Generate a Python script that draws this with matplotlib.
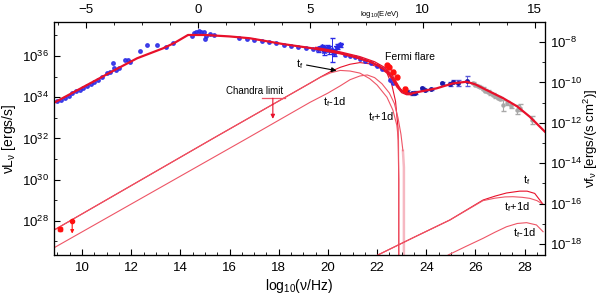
import numpy as np
import matplotlib.pyplot as plt
from matplotlib.ticker import MultipleLocator, FuncFormatter

plt.rcParams['font.family'] = ['Liberation Sans', 'DejaVu Sans']
plt.rcParams['mathtext.default'] = 'regular'

# ---- model curves, (log10 nu, log10 nuL_nu)
model_nu = [8.86, 10.45, 11.3, 12.24, 13.29, 13.78, 14.31, 15.0, 16.0, 16.83, 18.17, 19.5, 20.49,
            21.1, 21.71, 22.1, 22.4, 22.55, 22.7, 22.85, 23.0, 23.15, 23.33, 23.74, 24.42, 25.08,
            25.64, 26.0, 26.45, 27.13, 27.7, 28.21, 28.82]
model_L = [33.73, 34.75, 35.3, 35.89, 36.37, 36.65, 37.02, 37.02, 36.95, 36.86, 36.58, 36.35, 36.13,
           35.95, 35.72, 35.5, 35.25, 35.05, 34.8, 34.5, 34.3, 34.2, 34.16, 34.27, 34.43, 34.67,
           34.75, 34.62, 34.35, 33.95, 33.55, 33.05, 32.33]

bundle1_nu = [19.5, 20.5, 21.3, 21.9, 22.3, 22.6, 22.8, 22.95, 23.1, 23.3]
bundle1_L = [36.42, 36.2, 35.97, 35.72, 35.45, 35.1, 34.7, 34.4, 34.22, 34.2]
bundle2_nu = [19.5, 20.5, 21.3, 21.9, 22.3, 22.6, 22.8, 23.0, 23.2, 23.4]
bundle2_L = [36.38, 36.16, 35.9, 35.62, 35.33, 34.9, 34.5, 34.22, 34.12, 34.12]

# flare synchrotron components
tf_nu = [8.86, 15.33, 19.3, 19.7, 20.1, 20.5, 20.9, 21.3, 21.7, 22.1, 22.4, 22.6, 22.75, 22.85, 22.88, 22.88]
tf_L = [27.55, 32.0, 34.7, 34.98, 35.24, 35.45, 35.6, 35.68, 35.62, 35.42, 35.17, 34.6, 33.8, 32.5, 30.0, 26.0]
tfp_nu = [8.86, 15.33, 19.3, 19.7, 20.1, 20.5, 20.9, 21.3, 21.7, 22.0, 22.4, 22.64, 22.8, 22.87, 22.88, 22.88]
tfp_L = [27.55, 32.0, 34.7, 34.97, 35.18, 35.3, 35.27, 35.17, 34.9, 34.59, 34.0, 33.38, 32.65, 31.9, 30.0, 26.0]
tfm_nu = [8.86, 16.71, 19.27, 20.0, 20.5, 20.9, 21.3, 21.6, 21.9, 22.2, 22.5, 22.7, 22.85, 22.97, 23.05]
tfm_L = [26.69, 32.0, 33.75, 34.2, 34.55, 34.85, 35.03, 35.08, 34.95, 34.65, 34.2, 33.7, 33.0, 32.2, 31.4]
tfm_drop_nu = [23.05, 23.09, 23.09]
tfm_drop_L = [31.4, 30.6, 26.0]

# flare inverse Compton components
ic_tf_nu = [22.03, 23.5, 24.96, 26.31, 26.8, 27.26, 27.8, 28.1, 28.41, 28.75]
ic_tf_L = [26.34, 27.2, 28.04, 29.01, 29.2, 29.35, 29.44, 29.44, 29.33, 28.8]
ic_tfp_nu = [22.03, 23.5, 24.96, 26.31, 26.8, 27.2, 27.52, 27.9, 28.21, 28.5, 28.75]
ic_tfp_L = [26.34, 27.2, 28.04, 28.98, 29.1, 29.16, 29.17, 29.14, 29.09, 28.98, 28.8]
ic_tfm_nu = [24.89, 25.6, 26.31, 26.8, 27.26, 27.7, 28.08, 28.48, 28.75]
ic_tfm_L = [26.34, 26.75, 27.15, 27.45, 27.71, 27.87, 27.91, 27.8, 27.47]

# ---- data points
blue_nu = [9.0, 9.15, 9.3, 9.45, 9.6, 9.75, 9.9, 10.05, 10.2, 10.35, 10.5, 10.65, 10.8, 11.0,
           11.15, 11.27, 11.3, 11.4, 11.5, 11.75, 11.88, 11.95, 12.36, 12.63, 13.04, 13.4, 13.7,
           14.46, 14.55, 14.65, 14.75, 14.85, 14.95, 15.0, 15.05, 15.2, 15.35,
           16.4, 16.7, 17.0, 17.3, 17.6, 17.9, 18.2, 18.5, 18.8, 19.1, 19.4,
           20.7, 20.9, 21.1, 21.3, 21.5, 21.75, 22.0, 22.2, 22.52, 22.65]
blue_L = [33.8, 33.88, 33.98, 34.08, 34.18, 34.28, 34.36, 34.46, 34.56, 34.66, 34.76, 34.85, 34.96, 35.19,
          35.2, 35.66, 35.4, 35.3, 35.4, 35.82, 35.8, 35.72, 36.26, 36.53, 36.53, 36.45, 36.62,
          36.97, 37.1, 37.15, 37.2, 37.18, 37.15, 36.81, 36.95, 37.05, 37.0,
          36.88, 36.83, 36.78, 36.72, 36.67, 36.61, 36.55, 36.5, 36.45, 36.4, 36.34,
          36.05, 36.0, 35.93, 35.85, 35.78, 35.65, 35.5, 35.35, 34.83, 34.7]

xray_nu = [19.6, 19.75, 19.85, 19.95, 20.05, 20.15, 20.25, 20.35, 20.49]
xray_L = [36.33, 36.45, 36.22, 36.4, 36.3, 36.29, 36.15, 36.45, 36.53]
xray_err = [0.12, 0.1, 0.15, 0.12, 0.2, 0.6, 0.15, 0.12, 0.1]

vhe_nu = [23.2, 23.4, 23.55, 23.81, 23.94, 24.2, 24.62, 24.96, 25.1, 25.3, 25.66]
vhe_L = [34.27, 34.19, 34.22, 34.43, 34.35, 34.4, 34.7, 34.64, 34.75, 34.67, 34.8]
vhe_err = [0.08, 0.06, 0.06, 0.06, 0.06, 0.06, 0.06, 0.12, 0.08, 0.15, 0.25]

grey_nu = [25.9, 26.0, 26.1, 26.2, 26.3, 26.4, 26.5, 26.6, 26.7, 26.8, 26.9, 27.0, 27.12, 27.3,
           27.45, 27.68, 27.8, 28.28]
grey_L = [34.67, 34.6, 34.55, 34.5, 34.42, 34.32, 34.27, 34.18, 34.12, 34.04, 33.97, 33.92, 33.6, 33.72,
          33.58, 33.4, 33.5, 32.88]
grey_err = [0.05, 0.05, 0.05, 0.05, 0.06, 0.06, 0.06, 0.06, 0.06, 0.06, 0.08, 0.08, 0.25, 0.1,
            0.1, 0.2, 0.15, 0.2]

flare_nu = [22.39, 22.5, 22.63, 22.79, 23.13]
flare_L = [35.56, 35.45, 35.24, 34.97, 34.4]
flare_err = [0.07, 0.07, 0.07, 0.08, 0.08]

radio_nu = [9.1]
radio_L = [27.6]
radio_ul_nu = [9.6]
radio_ul_L = [27.98]

RED = '#e8102a'
LRED = '#ee5566'
PINK = '#f6b8c2'
BLUE = '#2a2ae6'

fig = plt.figure(figsize=(6, 2.97), dpi=100)
ax = fig.add_axes([0.09, 0.1414, 0.818, 0.7845])

# thin flare curves
ax.plot(tf_nu, tf_L, color=RED, lw=0.8, zorder=2)
ax.plot(tfp_nu, tfp_L, color=LRED, lw=0.8, zorder=2)
ax.plot(tfm_nu, tfm_L, color=LRED, lw=0.8, zorder=2)
ax.plot(tfm_drop_nu, tfm_drop_L, color=PINK, lw=1.8, zorder=1)
ax.plot(ic_tf_nu, ic_tf_L, color=RED, lw=0.8, zorder=2)
ax.plot(ic_tfp_nu, ic_tfp_L, color=LRED, lw=0.8, zorder=2)
ax.plot(ic_tfm_nu, ic_tfm_L, color=LRED, lw=0.8, zorder=2)

# data
ax.errorbar(grey_nu, grey_L, yerr=grey_err, fmt='o', ms=2.2, color='#a8a8a8', ecolor='#a8a8a8',
            elinewidth=0.8, capsize=1.8, zorder=3)
ax.plot(blue_nu, blue_L, 'o', ms=2.5, color=BLUE, alpha=0.85, zorder=4)
ax.errorbar(xray_nu, xray_L, yerr=xray_err, fmt='*', ms=4, color=BLUE, ecolor=BLUE,
            elinewidth=0.7, capsize=1.8, zorder=4)
ax.errorbar(vhe_nu, vhe_L, yerr=vhe_err, fmt='o', ms=2.5, color='#1a1aa8', ecolor='#5a5ad8',
            elinewidth=0.7, capsize=1.8, zorder=4)

# main model and bundle
ax.plot(bundle1_nu, bundle1_L, color=RED, lw=0.9, zorder=5)
ax.plot(bundle2_nu, bundle2_L, color=RED, lw=0.9, zorder=5)
ax.plot(model_nu, model_L, color=RED, lw=1.6, zorder=5)

ax.errorbar(flare_nu, flare_L, yerr=flare_err, fmt='o', ms=3.5, color='#ff1010', ecolor='#ff1010',
            elinewidth=0.8, capsize=1.5, zorder=6)
ax.errorbar(radio_nu, radio_L, xerr=0.08, yerr=0.08, fmt='o', ms=3, color='#ff1010',
            elinewidth=0.8, capsize=1.5, zorder=6)
ax.plot(radio_ul_nu, radio_ul_L, 'o', ms=3, color='#ff1010', zorder=6)
for n, l in zip(radio_ul_nu, radio_ul_L):
    ax.annotate('', xy=(n, l - 0.6), xytext=(n, l),
                arrowprops=dict(arrowstyle='-|>', color='#ff1010', lw=0.8,
                                mutation_scale=5, shrinkA=0, shrinkB=0))

# Chandra limit
ax.plot([17.3, 18.25], [33.95, 33.95], color=LRED, lw=0.9)
ax.annotate('', xy=(17.76, 32.95), xytext=(17.76, 33.95),
            arrowprops=dict(arrowstyle='-|>', color=RED, lw=0.8,
                            mutation_scale=6, shrinkA=0, shrinkB=0))
ax.text(17.03, 34.3, 'Chandra limit', fontsize=7, ha='center', va='center')

# labels
ax.annotate('', xy=(20.35, 35.29), xytext=(19.13, 35.56),
            arrowprops=dict(arrowstyle='-|>', color='black', lw=0.8,
                            mutation_scale=7, shrinkA=0, shrinkB=0))
ax.text(18.86, 35.62, 't$_{f}$', fontsize=8, ha='center', va='center')
ax.text(20.28, 33.77, 't$_{f}$-1d', fontsize=8, ha='center', va='center')
ax.text(22.15, 33.04, 't$_{f}$+1d', fontsize=8, ha='center', va='center')
ax.text(23.33, 35.95, 'Fermi flare', fontsize=7.5, ha='center', va='center')
ax.text(28.09, 29.98, 't$_{f}$', fontsize=8, ha='center', va='center')
ax.text(27.68, 28.67, 't$_{f}$+1d', fontsize=8, ha='center', va='center')
ax.text(28.0, 27.4, 't$_{f}$-1d', fontsize=8, ha='center', va='center')

# axes
ax.set_xlim(8.86, 28.82)
ax.set_ylim(26.34, 37.65)
ax.xaxis.set_major_locator(MultipleLocator(2))
ax.xaxis.set_minor_locator(MultipleLocator(0.5))
ax.yaxis.set_major_locator(MultipleLocator(2))
ax.yaxis.set_minor_locator(MultipleLocator(1))
ax.yaxis.set_major_formatter(FuncFormatter(lambda v, p: r'$10^{%d}$' % round(v)))
ax.tick_params(axis='both', which='both', direction='in', labelsize=9.5)
ax.tick_params(which='major', length=4)
ax.tick_params(which='minor', length=2)
ax.tick_params(axis='x', top=False, pad=5)
ax.tick_params(axis='y', right=False)
ax.set_xlabel('log$_{10}$(ν/Hz)', fontsize=10, labelpad=2)
ax.set_ylabel('νL$_{ν}$ [ergs/s]', fontsize=10, labelpad=3)

axt = ax.twiny()
axt.set_xlim(-6.43, 15.45)
axt.xaxis.set_major_locator(MultipleLocator(5))
axt.xaxis.set_minor_locator(MultipleLocator(1.25))
axt.tick_params(axis='x', which='both', direction='in', labelsize=9.5, pad=4)
axt.tick_params(which='major', length=4)
axt.tick_params(which='minor', length=2)

axr = ax.twinx()
axr.set_ylim(-18.54, -7.01)
axr.yaxis.set_major_locator(MultipleLocator(2))
axr.yaxis.set_minor_locator(MultipleLocator(1))
axr.yaxis.set_major_formatter(FuncFormatter(lambda v, p: r'$10^{%d}$' % round(v)))
axr.tick_params(axis='y', which='both', direction='in', labelsize=9.5)
axr.tick_params(which='major', length=4)
axr.tick_params(which='minor', length=2)
axr.set_ylabel('νf$_{ν}$ [ergs/(s cm$^{2}$)]', fontsize=9.5, labelpad=0)

fig.text(380 / 600, 1 - 15 / 297, 'log$_{10}$(E/eV)', fontsize=5.5, ha='center', va='center')

fig.savefig('out.png', dpi=100)
